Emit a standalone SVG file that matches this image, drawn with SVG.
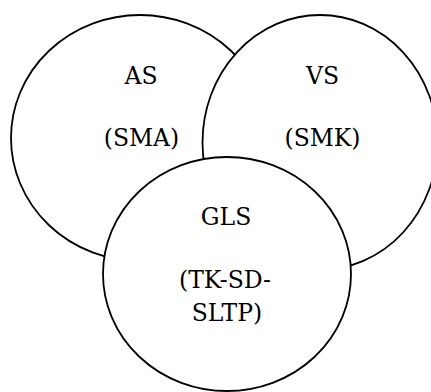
<svg xmlns="http://www.w3.org/2000/svg" width="431" height="392" viewBox="0 0 431 392">
<style>
.c{fill:#fff;stroke:#000;stroke-width:1.8}
text{font-family:'DejaVu Serif',serif;font-size:23.5px;fill:#000;text-anchor:middle}
</style>
<rect width="431" height="392" fill="#fff"/>
<g id="connectors"></g>
<g id="node-as">
<ellipse class="c" cx="140" cy="138" rx="129" ry="123"/>
<text x="141" y="84">AS</text>
<text x="141.5" y="146">(SMA)</text>
</g>
<g id="node-vs">
<ellipse class="c" cx="320" cy="142.4" rx="117.5" ry="127.4"/>
<text x="322.5" y="84">VS</text>
<text x="322.5" y="146">(SMK)</text>
</g>
<g id="node-gls">
<ellipse class="c" cx="227" cy="274" rx="124" ry="117"/>
<text x="226" y="225">GLS</text>
<text x="225" y="288">(TK-SD-</text>
<text x="227" y="321">SLTP)</text>
</g>
</svg>
